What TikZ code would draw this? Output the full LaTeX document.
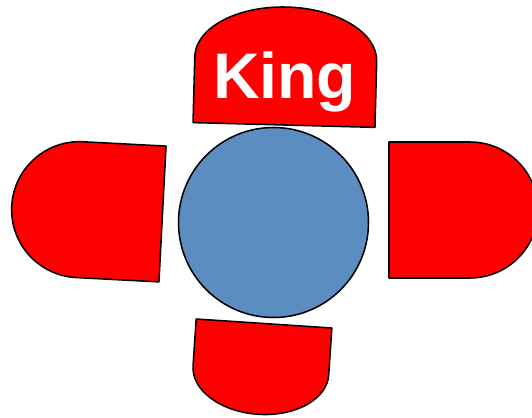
\documentclass[tikz,border=0pt]{standalone}
\usepackage{fontspec}
\newfontfamily\kingfont{Liberation Sans}
\usepackage{tikz}
\usetikzlibrary{positioning}
\definecolor{tableblue}{RGB}{91,141,193}

\begin{document}
\begin{tikzpicture}[x=0.03cm,y=0.03cm,
  chair/.style={fill=red,draw=black,line width=1.3pt,line join=round}]
\useasboundingbox (0,0) rectangle (532,417);
% ---- round table ----
\draw[fill=tableblue,line width=1.3pt] (273.5,194.5) circle (95);
% ---- top chair (King) ----
\begin{scope}[shift={(284,292)},rotate=-1.5]
\draw[chair] (-91,0) -- (-91,66) arc[start angle=180,end angle=0,x radius=91,y radius=52] -- (91,0) -- cycle;
\node[anchor=base,text=white,font=\kingfont\bfseries\fontsize{55}{60}\selectfont,inner sep=0pt] (king) at (0,27) {King};
\end{scope}
% ---- left chair ----
\begin{scope}[shift={(162.5,203)},rotate=-3]
\draw[chair] (0,-68) -- (0,68) -- (-83,68) arc[start angle=90,end angle=270,radius=68] -- cycle;
\end{scope}
% ---- right chair ----
\begin{scope}[shift={(389,207)}]
\draw[chair] (0,-68) -- (0,68) -- (81,68) arc[start angle=90,end angle=-90,radius=68] -- cycle;
\end{scope}
% ---- bottom chair ----
\begin{scope}[shift={(264,93.5)},rotate=-3.8]
\draw[chair] (-68,0) -- (-68,-47) arc[start angle=180,end angle=360,x radius=68,y radius=44] -- (68,0) -- cycle;
\end{scope}
\end{tikzpicture}
\end{document}
